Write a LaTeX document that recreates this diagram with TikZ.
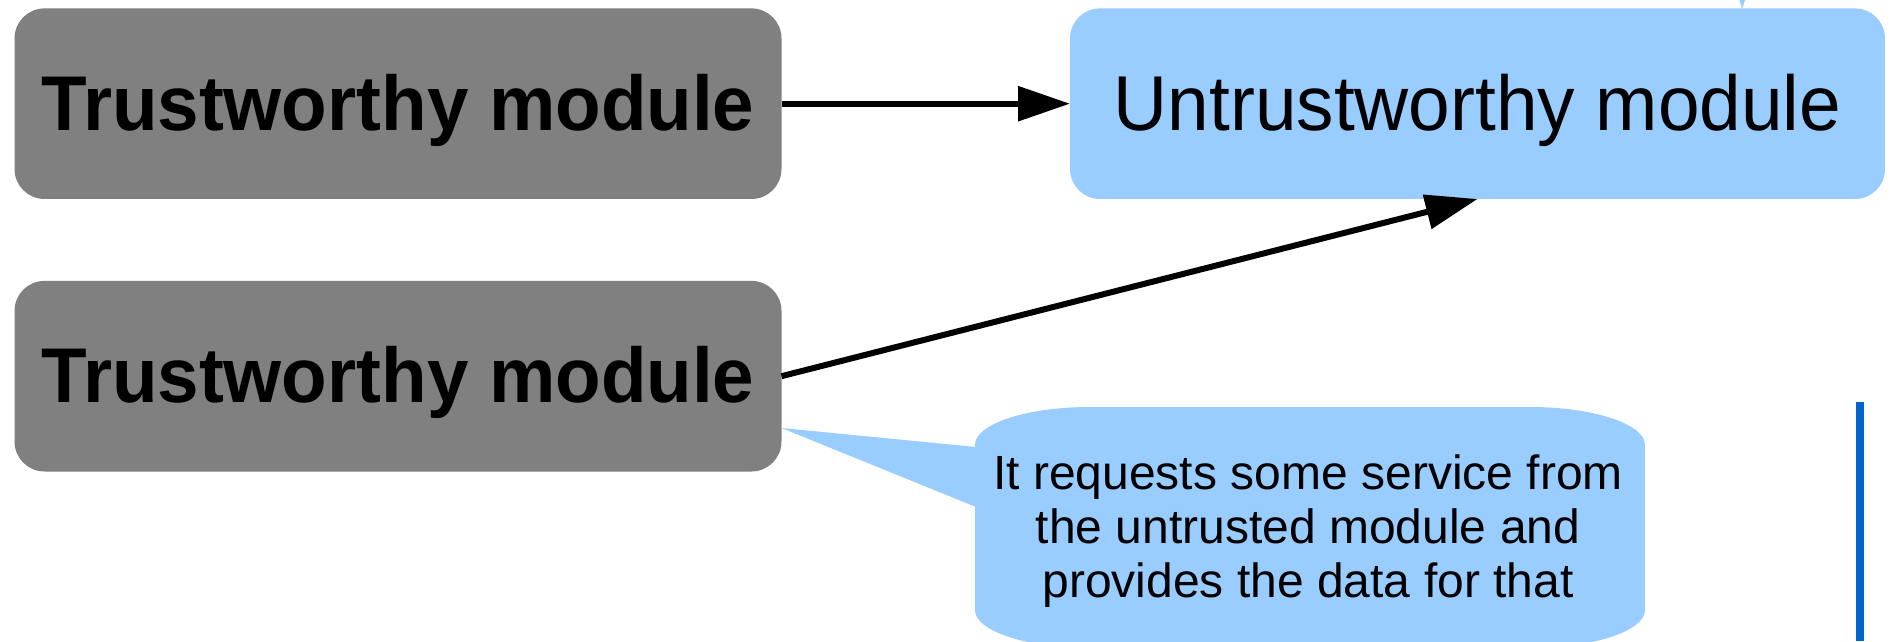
\documentclass[tikz,border=0pt]{standalone}
\usepackage{fontspec}
\setmainfont{Liberation Sans}
\usetikzlibrary{arrows.meta,calc}
\definecolor{boxgray}{HTML}{808080}
\definecolor{lightblue}{HTML}{99CCFF}
\definecolor{barblue}{HTML}{0066CC}
\begin{document}
\begin{tikzpicture}[x=1pt,y=1pt,
  trusted/.style={fill=boxgray, rounded corners=30pt, minimum width=767pt, minimum height=190.6pt,
    inner sep=0pt, outer sep=0pt, font=\fontsize{74.6}{80}\selectfont\bfseries, text height=63pt, text depth=10pt},
  untrusted/.style={fill=lightblue, rounded corners=30pt, minimum width=815pt, minimum height=190.6pt,
    inner sep=0pt, outer sep=0pt, font=\fontsize{74.8}{80}\selectfont, text height=63pt, text depth=10pt},
  conn/.style={line width=6pt, -{Triangle[length=52pt, width=34pt]}},
  calltext/.style={align=center, inner sep=0pt, font=\fontsize{48}{53.7}\selectfont}
]
\useasboundingbox (0,0) rectangle (1891,641);
% nodes
\node[trusted] (g1) at (398,537.3) {\scalebox{1}[1.04]{Trustworthy module}};
\node[trusted] (g2) at (398,264.8) {\scalebox{1}[1.04]{Trustworthy module}};
\node[untrusted] (u) at (1477.5,537.3) {\scalebox{1}[1.04]{Untrustworthy module}};
% connectors
\draw[conn] (g1.east) -- (u.west);
\draw[conn] (g2.east) -- (u.south);
% callout
\coordinate (tip) at (781.5,213);
\fill[lightblue] (tip) -- (976,194) -- (976,134) -- cycle;
\fill[lightblue] (975,196) arc[start angle=180, end angle=90, x radius=115, y radius=38]
  -- (1530,234) arc[start angle=90, end angle=0, x radius=115, y radius=38]
  -- (1645,31) arc[start angle=0, end angle=-90, x radius=115, y radius=38]
  -- (1090,-7) arc[start angle=270, end angle=180, x radius=115, y radius=38] -- cycle;
\node[calltext] (c) at (1308,110) {It requests some service from\\the untrusted module and\\provides the data for that};
% side bar and small tick
\fill[barblue] (1856,0) rectangle (1864,239);
\fill[lightblue] (1739.5,641) -- (1745,641) -- (1742,632) -- cycle;
\end{tikzpicture}
\end{document}
